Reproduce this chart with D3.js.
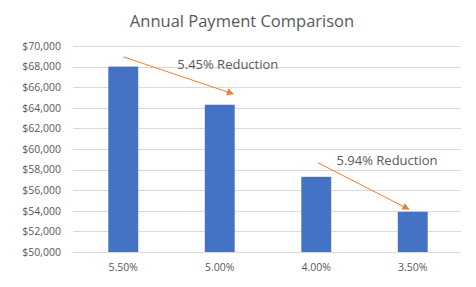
<!DOCTYPE html>
<html>
<head>
<meta charset="utf-8">
<script src="https://cdn.jsdelivr.net/npm/d3@7"></script>
<style>
  body { margin: 0; background: #fff; }
  text { font-family: "Open Sans", "Noto Sans", sans-serif; fill: #595959; }
</style>
</head>
<body>
<div id="chart"></div>
<script>
// chart data
const rates = ["5.50%", "5.00%", "4.00%", "3.50%"];
const payments = [68000, 64300, 57300, 53900];
const yTicks = [50000, 52000, 54000, 56000, 58000, 60000, 62000, 64000, 66000, 68000, 70000];

// annotation arrows: from/to given as [category, offset in band, value]
const notes = [
  {label: "5.45% Reduction", from: ["5.50%", 0.0, 68950], to: ["5.00%", 0.14, 65350], at: ["5.00%", -0.44, 67800]},
  {label: "5.94% Reduction", from: ["4.00%", 0.02, 58650], to: ["3.50%", -0.04, 54150], at: ["4.00%", 0.21, 58450]}
];

const w = 476, h = 287;
const margin = {top: 46, right: 15, bottom: 35, left: 75};

const svg = d3.select("#chart").append("svg")
  .attr("width", w)
  .attr("height", h);

const x = d3.scaleBand()
  .domain(rates)
  .range([margin.left, w - margin.right])
  .paddingInner(0.69)
  .paddingOuter(0.345);

const y = d3.scaleLinear()
  .domain([50000, 70000])
  .range([h - margin.bottom, margin.top]);

const px = (c, off) => x(c) + x.bandwidth() / 2 + off * x.step();

svg.append("text")
  .attr("x", 242)
  .attr("y", 27)
  .attr("text-anchor", "middle")
  .style("font-size", "16.5px")
  .text("Annual Payment Comparison");

// gridlines
svg.append("g")
  .selectAll("line")
  .data(yTicks)
  .join("line")
  .attr("x1", 73)
  .attr("x2", 461)
  .attr("y1", d => Math.round(y(d)) + 0.5)
  .attr("y2", d => Math.round(y(d)) + 0.5)
  .attr("stroke", "#d9d9d9");

const yAxis = d3.axisLeft(y)
  .tickValues(yTicks)
  .tickFormat(d => "$" + d3.format(",")(d))
  .tickSize(0)
  .tickPadding(0);

svg.append("g")
  .attr("transform", "translate(61,0)")
  .call(yAxis)
  .call(g => g.select(".domain").remove())
  .selectAll("text")
  .style("font-size", "10.5px")
  .style("fill", "#595959");

svg.selectAll("rect.bar")
  .data(payments)
  .join("rect")
  .attr("class", "bar")
  .attr("x", (d, i) => x(rates[i]))
  .attr("y", d => y(d))
  .attr("width", x.bandwidth())
  .attr("height", d => y(50000) - y(d))
  .attr("fill", "#4472c4");

const xAxis = d3.axisBottom(x).tickSize(0).tickPadding(0);
svg.append("g")
  .attr("transform", "translate(0," + (h - margin.bottom + 12) + ")")
  .call(xAxis)
  .call(g => g.select(".domain").remove())
  .selectAll("text")
  .style("font-size", "10.5px")
  .style("fill", "#595959");

// arrows
svg.append("defs").append("marker")
  .attr("id", "head")
  .attr("viewBox", "0 0 10 10")
  .attr("refX", 9)
  .attr("refY", 5)
  .attr("markerWidth", 9)
  .attr("markerHeight", 7)
  .attr("orient", "auto")
  .attr("markerUnits", "userSpaceOnUse")
  .append("path")
  .attr("d", "M0,0 L10,5 L0,10 Z")
  .attr("fill", "#ed7d31");

notes.forEach(n => {
  svg.append("line")
    .attr("x1", px(n.from[0], n.from[1]))
    .attr("y1", y(n.from[2]))
    .attr("x2", px(n.to[0], n.to[1]))
    .attr("y2", y(n.to[2]))
    .attr("stroke", "#ed7d31")
    .attr("stroke-width", 1)
    .attr("marker-end", "url(#head)");
  svg.append("text")
    .attr("x", px(n.at[0], n.at[1]))
    .attr("y", y(n.at[2]))
    .style("font-size", "13px")
    .text(n.label);
});
</script>
</body>
</html>
